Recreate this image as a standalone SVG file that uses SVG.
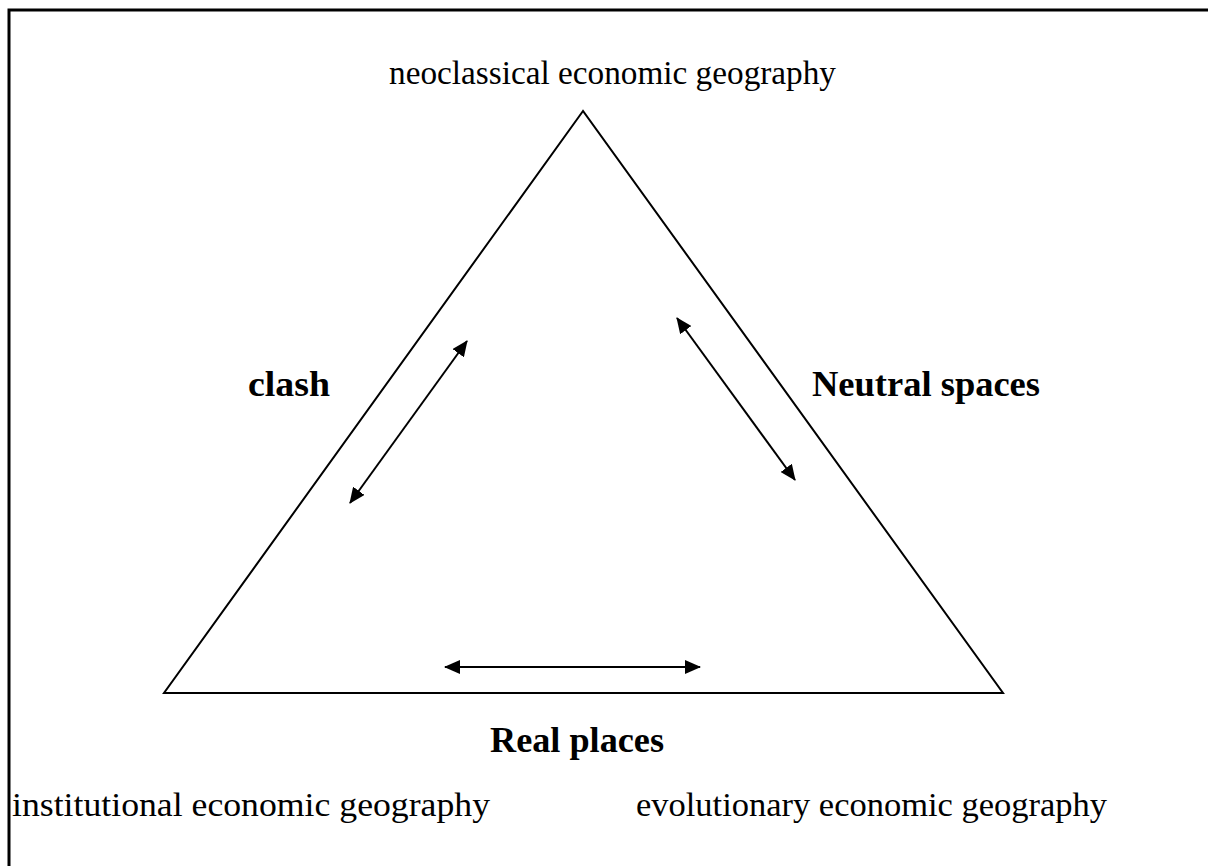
<svg xmlns="http://www.w3.org/2000/svg" width="1208" height="866" viewBox="0 0 1208 866">
<style>
.t{font-family:"Liberation Serif","Times New Roman",serif;font-size:33px;fill:#000}
.b{font-weight:bold;font-size:36px}
.ln{stroke:#000;stroke-width:2;fill:none}
.ar{stroke:#000;stroke-width:2;fill:none;marker-start:url(#ah);marker-end:url(#ah)}
</style>
<defs>
<marker id="ah" viewBox="0 0 16 14" refX="15" refY="7" markerWidth="16" markerHeight="14" markerUnits="userSpaceOnUse" orient="auto-start-reverse">
<path d="M0,0 L16,7 L0,14 z" fill="#000"/>
</marker>
</defs>
<rect x="0" y="0" width="1208" height="866" fill="#fff"/>
<rect x="9" y="10" width="1210" height="870" stroke="#000" stroke-width="3" fill="none"/>
<g id="triangle"><polygon points="583,111 164,693 1003,693" class="ln"/></g>
<g id="connectors">
<line x1="350" y1="503" x2="467" y2="341" class="ar"/>
<line x1="677" y1="318" x2="795" y2="480" class="ar"/>
<line x1="445" y1="667" x2="700" y2="667" class="ar"/>
</g>
<g id="neoclassical"><text x="389" y="84" class="t" textLength="447" lengthAdjust="spacingAndGlyphs">neoclassical economic geography</text></g>
<g id="clash"><text x="248" y="396" class="t b" textLength="82" lengthAdjust="spacingAndGlyphs">clash</text></g>
<g id="neutral"><text x="812" y="396" class="t b" textLength="228" lengthAdjust="spacingAndGlyphs">Neutral spaces</text></g>
<g id="real"><text x="490" y="752" class="t b" textLength="174" lengthAdjust="spacingAndGlyphs">Real places</text></g>
<g id="institutional"><text x="12" y="816" class="t" textLength="478" lengthAdjust="spacingAndGlyphs">institutional economic geography</text></g>
<g id="evolutionary"><text x="636" y="816" class="t" textLength="471" lengthAdjust="spacingAndGlyphs">evolutionary economic geography</text></g>
</svg>
